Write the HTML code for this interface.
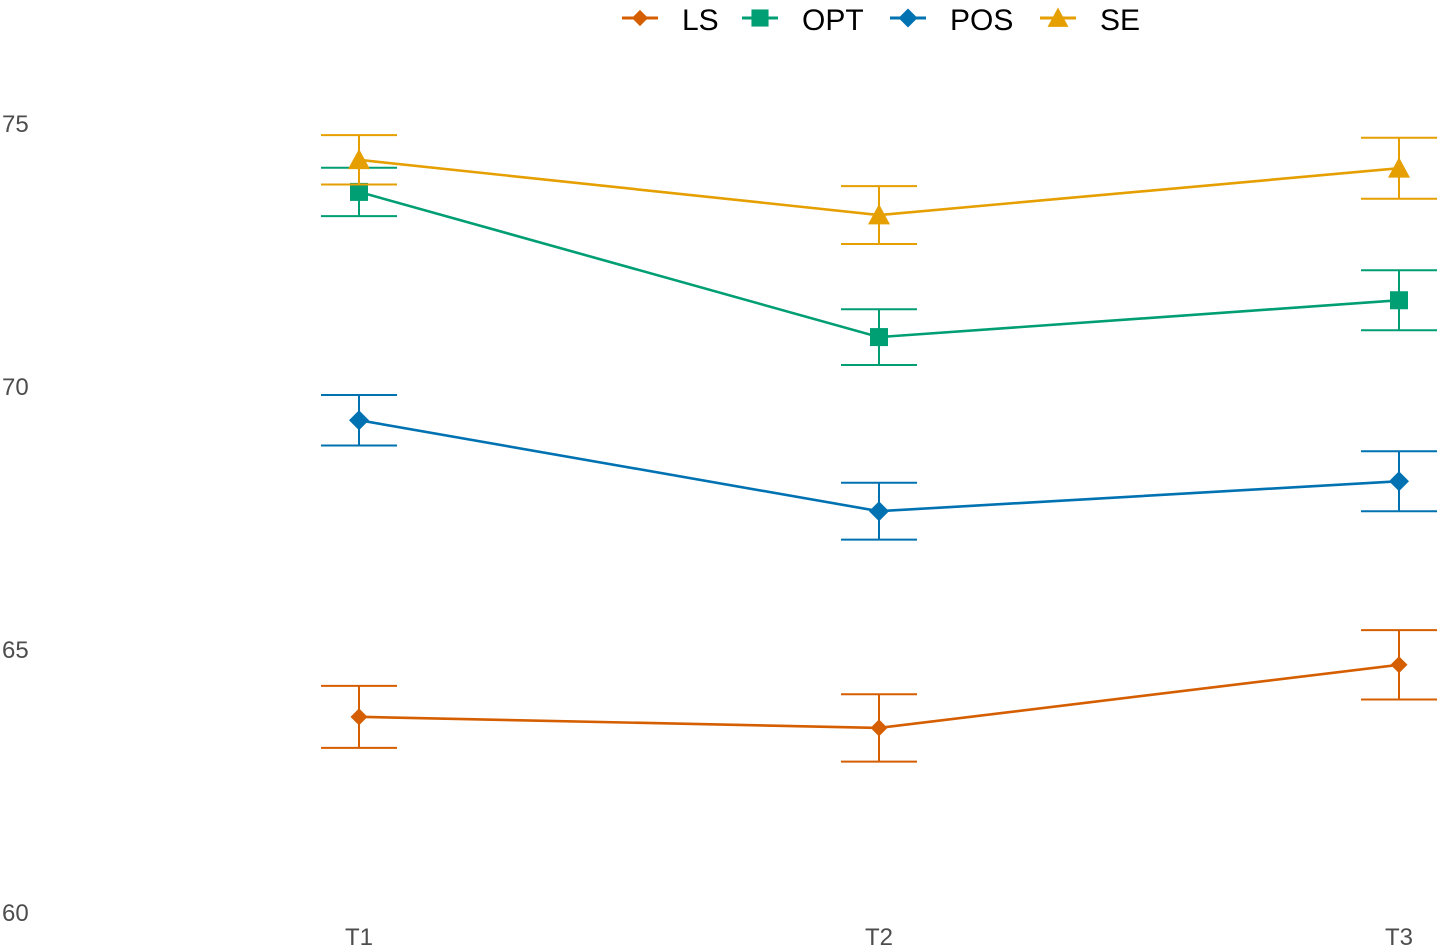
<!DOCTYPE html>
<html><head><meta charset="utf-8"><style>
html,body{margin:0;padding:0;background:#fff;}
svg{display:block;font-family:"Liberation Sans",sans-serif;}
</style></head><body>
<svg id="chart" width="1441" height="950" viewBox="0 0 1441 950"></svg>
<script>
const categories = ["T1","T2","T3"];
const seriesNames = ["LS","OPT","POS","SE"];
const lsMeans = [63.71, 63.50, 64.70];
const lsErr = [0.59, 0.64, 0.66];
const optMeans = [73.69, 70.93, 71.63];
const optErr = [0.46, 0.53, 0.57];
const posMeans = [69.35, 67.62, 68.19];
const posErr = [0.48, 0.54, 0.57];
const seMeans = [74.30, 73.25, 74.14];
const seErr = [0.47, 0.55, 0.58];
const yTicks = [60, 65, 70, 75];

const NS = "http://www.w3.org/2000/svg";
const svg = document.getElementById("chart");
function yScale(v){ return 912 - (v - 60) * 52.6; }
function xScale(i){ return 359 + i * 520; }
function mk(tag, attrs, parent){
  const e = document.createElementNS(NS, tag);
  for (const k in attrs) e.setAttribute(k, attrs[k]);
  (parent || svg).appendChild(e);
  return e;
}
const series = [
  {name:"LS", means:lsMeans, err:lsErr, color:"#D55E00", shape:"diamond-s"},
  {name:"OPT", means:optMeans, err:optErr, color:"#009E73", shape:"square"},
  {name:"POS", means:posMeans, err:posErr, color:"#0072B2", shape:"diamond"},
  {name:"SE", means:seMeans, err:seErr, color:"#E69F00", shape:"triangle"}
];
function marker(g, shape, cx, cy, color, scale){
  scale = scale || 1;
  let e;
  if (shape === "square") { const s = 9*scale; e = mk("rect",{x:cx-s,y:cy-s,width:2*s,height:2*s,fill:color},g); }
  else if (shape === "diamond") { const s = 10*scale; e = mk("polygon",{points:`${cx},${cy-s} ${cx+s},${cy} ${cx},${cy+s} ${cx-s},${cy}`,fill:color},g); }
  else if (shape === "diamond-s") { const s = 8.5*scale; e = mk("polygon",{points:`${cx},${cy-s} ${cx+s},${cy} ${cx},${cy+s} ${cx-s},${cy}`,fill:color},g); }
  else { const s = 11*scale; e = mk("polygon",{points:`${cx},${cy-s} ${cx+s},${cy+s*0.85} ${cx-s},${cy+s*0.85}`,fill:color},g); }
  return e;
}
// y ticks
yTicks.forEach(t=>{
  const tx = mk("text",{x:2,y:yScale(t)+9,"font-size":24,fill:"#4d4d4d"});
  tx.textContent = t;
  
  
});
categories.forEach((c,i)=>{
  const tx = mk("text",{x:xScale(i),y:945,"font-size":24,fill:"#4d4d4d","text-anchor":"middle"});
  tx.textContent = c;
  
  
});
series.forEach(s=>{
  const g = mk("g",{});
  
  
  s.means.forEach((m,i)=>{
    const x = xScale(i), y1 = yScale(m + s.err[i]), y2 = yScale(m - s.err[i]);
    const eb = mk("path",{d:`M${x-38},${y1}H${x+38}M${x},${y1}V${y2}M${x-38},${y2}H${x+38}`,stroke:s.color,"stroke-width":2,fill:"none"},g);
    
    
  });
  const pts = s.means.map((m,i)=>xScale(i)+","+yScale(m)).join(" ");
  const ln = mk("polyline",{points:pts,stroke:s.color,"stroke-width":2.6,fill:"none"},g);
  
  
  s.means.forEach((m,i)=>{
    const p = marker(g, s.shape, xScale(i), yScale(m), s.color);
    
    
  });
});
// legend
const legendX = [622, 742, 890, 1040];
series.forEach((s,i)=>{
  const g = mk("g",{});
  
  
  const x = legendX[i];
  mk("line",{x1:x,y1:18,x2:x+36,y2:18,stroke:s.color,"stroke-width":3},g);
  marker(g, s.shape, x+18, 18, s.color, 0.95);
  const t = mk("text",{x:x+60,y:30,"font-size":30,fill:"#000"},g);
  t.textContent = s.name;
});
</script>
</body></html>
